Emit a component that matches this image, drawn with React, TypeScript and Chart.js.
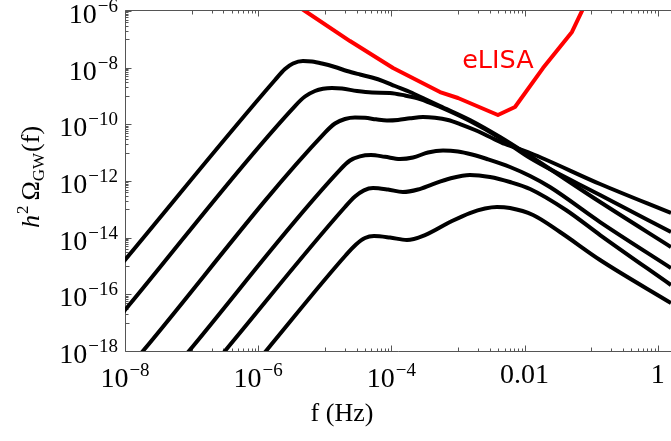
import React, { useEffect, useRef } from "react";
import { Chart, registerables } from "chart.js";

Chart.register(...registerables);

// ---- axis ranges ----
const X_MIN = 1e-8;
const X_MAX = 1.58;
const Y_MIN = 1e-18;
const Y_MAX = 1e-6;

// ---- black spectra (f in Hz, h^2 Omega_GW) ----
const freqA = [4.43e-9, 1e-8, 1.788e-6, 2.527e-6, 3.331e-6, 4.706e-6, 6.424e-6, 9.08e-6, 1.422e-5, 2.154e-5, 3.377e-5, 5.113e-5, 7.477e-5, 1.133e-4, 1.903e-4, 3.195e-4, 5.37e-4, 1.51e-3, 4.28e-3, 1.21e-2, 0.136, 1.58];
const omegaA = [1.63e-16, 1.63e-15, 3.667e-9, 8.966e-9, 1.402e-8, 1.718e-8, 1.65e-8, 1.402e-8, 1.055e-8, 7.622e-9, 5.735e-9, 4.494e-9, 3.38e-9, 2.25e-9, 1.38e-9, 7.83e-10, 4.43e-10, 1.42e-10, 3.56e-11, 7.62e-12, 1.81e-13, 4.68e-15];

const freqB = [4.43e-9, 1e-8, 3.569e-6, 5.043e-6, 7.126e-6, 9.397e-6, 1.282e-5, 1.813e-5, 3.045e-5, 5.113e-5, 9.53e-5, 1.601e-4, 2.69e-4, 5.37e-4, 1.51e-3, 4.28e-3, 1.21e-2, 0.136, 1.58];
const omegaB = [2.79e-18, 2.79e-17, 4.43e-10, 9.594e-10, 1.5e-9, 1.794e-9, 1.91e-9, 1.838e-9, 1.5e-9, 1.328e-9, 1.28e-9, 1.04e-9, 7.83e-10, 4.08e-10, 1.31e-10, 3.29e-11, 6.47e-12, 3.2e-13, 1.58e-14];

const freqC = [8.2e-9, 1.86e-8, 1.007e-5, 1.422e-5, 2.011e-5, 2.841e-5, 4.015e-5, 5.872e-5, 8.588e-5, 1.256e-4, 1.903e-4, 2.982e-4, 4.516e-4, 7.075e-4, 1.072e-3, 1.8e-3, 3.023e-3, 5.077e-3, 1.21e-2, 0.136, 1.58];
const omegaC = [1e-19, 1e-18, 5.101e-11, 1.069e-10, 1.54e-10, 1.74e-10, 1.699e-10, 1.504e-10, 1.364e-10, 1.42e-10, 1.631e-10, 1.81e-10, 1.699e-10, 1.42e-10, 1.026e-10, 6.3e-11, 3.56e-11, 2.02e-11, 9.72e-12, 7.82e-13, 7.41e-14];

const freqD = [4.05e-8, 9.14e-8, 1.691e-5, 2.39e-5, 3.377e-5, 4.94e-5, 8.014e-5, 1.346e-4, 2.11e-4, 3.544e-4, 5.96e-4, 1.0e-3, 1.623e-3, 2.725e-3, 6.04e-3, 1.21e-2, 2.4e-2, 0.136, 1.58];
const omegaD = [1e-19, 1e-18, 2.481e-12, 5.283e-12, 7.432e-12, 8.26e-12, 7.136e-12, 5.97e-12, 6.74e-12, 1.012e-11, 1.19e-11, 1.098e-11, 8.604e-12, 5.97e-12, 3.12e-12, 1.499e-12, 6.14e-13, 3.56e-14, 8.48e-16];

const freqE = [1.4e-7, 3.17e-7, 2.011e-5, 2.841e-5, 3.878e-5, 5.3e-5, 8.889e-5, 1.49e-4, 2.507e-4, 4.212e-4, 7.58e-4, 1.51e-3, 3.023e-3, 6.04e-3, 1.21e-2, 4.18e-2, 0.136, 1.58];
const omegaE = [1e-19, 1e-18, 1.207e-13, 2.832e-13, 4.688e-13, 5.65e-13, 5.003e-13, 4.08e-13, 5.003e-13, 7.822e-13, 1.224e-12, 1.63e-12, 1.382e-12, 9.204e-13, 5.21e-13, 9.46e-14, 1.239e-14, 2.13e-16];

const freqF = [5.8e-7, 1.31e-6, 2.081e-5, 2.941e-5, 4.015e-5, 5.478e-5, 9.53e-5, 1.71e-4, 3.195e-4, 7.58e-4, 1.51e-3, 2.543e-3, 3.85e-3, 6.04e-3, 1.34e-2, 3.401e-2, 0.136, 1.58];
const omegaF = [1e-19, 1e-18, 2.439e-15, 5.727e-15, 9.712e-15, 1.14e-14, 1.012e-14, 8.26e-15, 1.239e-14, 3.56e-14, 7.41e-14, 1.068e-13, 1.21e-13, 1.112e-13, 6.3e-14, 1.58e-14, 1.63e-15, 4.93e-17];

// ---- eLISA sensitivity curve ----
const freqELISA = [1.5e-6, 5.05e-6, 2.39e-5, 1.06e-4, 5.37e-4, 1.0e-3, 3.98e-3, 7.18e-3, 1.89e-2, 5.15e-2, 7.28e-2, 9.6e-2];
const omegaELISA = [6.5e-6, 1e-6, 8.7e-8, 9.7e-9, 1.38e-9, 8.5e-10, 2.13e-10, 4.08e-10, 9.7e-9, 1.82e-7, 1e-6, 5.5e-6];
const ELISA_LABEL = "eLISA";
const ELISA_LABEL_F = 3.98e-3;
const ELISA_LABEL_OMEGA = 1.01e-8;

// ---- ticks and titles ----
const X_MAJOR = [1e-8, 1e-6, 1e-4, 1e-2, 1];
const X_LABEL_BASE = ["10", "10", "10", "0.01", "1"];
const X_LABEL_EXP = ["\u22128", "\u22126", "\u22124", "", ""];
const Y_MAJOR = [1e-6, 1e-8, 1e-10, 1e-12, 1e-14, 1e-16, 1e-18];
const Y_LABEL_BASE = ["10", "10", "10", "10", "10", "10", "10"];
const Y_LABEL_EXP = ["\u22126", "\u22128", "\u221210", "\u221212", "\u221214", "\u221216", "\u221218"];
const X_MINOR_EXPONENTS = [-7, -5, -3, -1];
const Y_MINOR_EXPONENTS = [-17, -15, -13, -11, -9, -7];
const X_TITLE = "f (Hz)";

const SERIF = '"Liberation Serif", "Times New Roman", "DejaVu Serif", serif';
const SANS = '"DejaVu Sans", "Liberation Sans", sans-serif';

const overlayPlugin = {
  id: "overlay",
  beforeDatasetsDraw(chart: any) {
    const { ctx, chartArea: a } = chart;
    const xs = chart.scales.x;
    const ys = chart.scales.y;
    const L = a.left + 0.5;
    const T = a.top - 0.5;
    const B = a.bottom + 0.5;
    ctx.save();
    ctx.strokeStyle = "#555";
    ctx.lineWidth = 1;
    ctx.beginPath();
    ctx.moveTo(a.right, T);
    ctx.lineTo(L, T);
    ctx.lineTo(L, B);
    ctx.lineTo(a.right, B);
    const xTick = (v: number, len: number) => {
      const px = Math.round(xs.getPixelForValue(v)) + 0.5;
      if (px < a.left || px > a.right) return;
      ctx.moveTo(px, B);
      ctx.lineTo(px, B - len);
      ctx.moveTo(px, T);
      ctx.lineTo(px, T + len);
    };
    const yTick = (v: number, len: number) => {
      const py = Math.round(ys.getPixelForValue(v)) + 0.5;
      if (py < a.top - 1 || py > a.bottom + 1) return;
      ctx.moveTo(L, py);
      ctx.lineTo(L + len, py);
    };
    X_MAJOR.forEach((v) => xTick(v, 6));
    X_MINOR_EXPONENTS.forEach((e) => {
      for (let k = 1; k <= 9; k++) xTick(k * Math.pow(10, e), k === 1 ? 4 : 3);
    });
    Y_MAJOR.forEach((v) => yTick(v, 6));
    Y_MINOR_EXPONENTS.forEach((e) => {
      for (let k = 1; k <= 9; k++) yTick(k * Math.pow(10, e), k === 1 ? 4 : 3);
    });
    ctx.stroke();
    ctx.restore();
  },
  afterDraw(chart: any) {
    const { ctx } = chart;
    const xs = chart.scales.x;
    const ys = chart.scales.y;
    ctx.save();
    ctx.fillStyle = "#000";
    ctx.textBaseline = "alphabetic";
    const baseFont = `28px ${SERIF}`;
    const expFont = `19px ${SERIF}`;
    X_MAJOR.forEach((v, i) => {
      const px = xs.getPixelForValue(v);
      const b = X_LABEL_BASE[i];
      const e = X_LABEL_EXP[i];
      ctx.font = baseFont;
      const wb = ctx.measureText(b).width;
      ctx.font = expFont;
      const we = e ? ctx.measureText(e).width + 1 : 0;
      const start = px - (wb + we) / 2;
      ctx.textAlign = "left";
      if (e) {
        ctx.font = baseFont;
        ctx.fillText(b, start, 387);
        ctx.font = expFont;
        ctx.fillText(e, start + wb + 1, 376);
      } else {
        ctx.font = baseFont;
        ctx.fillText(b, start, 383);
      }
    });
    Y_MAJOR.forEach((v, i) => {
      const py = ys.getPixelForValue(v);
      const right = 118;
      ctx.textAlign = "right";
      ctx.font = expFont;
      const e = Y_LABEL_EXP[i];
      const we = ctx.measureText(e).width;
      ctx.fillText(e, right, py + 1);
      ctx.font = baseFont;
      ctx.fillText(Y_LABEL_BASE[i], right - we - 1, py + 12);
    });
    ctx.textAlign = "center";
    ctx.font = `26px ${SERIF}`;
    ctx.fillText(X_TITLE, 342, 421);
    ctx.save();
    ctx.translate(38.5, 177);
    ctx.rotate(-Math.PI / 2);
    ctx.textAlign = "left";
    const pieces = [
      { t: "h", f: `italic 26px ${SERIF}`, dy: 0, gap: 1 },
      { t: "2", f: `17px ${SERIF}`, dy: -11, gap: 5 },
      { t: "\u03A9", f: `26px ${SERIF}`, dy: 0, gap: 0 },
      { t: "GW", f: `17px ${SERIF}`, dy: 5, gap: 1 },
      { t: "(f)", f: `26px ${SERIF}`, dy: 0, gap: 0 },
    ];
    let total = 0;
    pieces.forEach((p) => {
      ctx.font = p.f;
      total += ctx.measureText(p.t).width + p.gap;
    });
    let cx = -total / 2;
    pieces.forEach((p) => {
      ctx.font = p.f;
      ctx.fillText(p.t, cx, p.dy);
      cx += ctx.measureText(p.t).width + p.gap;
    });
    ctx.restore();
    ctx.fillStyle = "#ff0000";
    ctx.textAlign = "center";
    ctx.font = `25.5px ${SANS}`;
    ctx.fillText(ELISA_LABEL, xs.getPixelForValue(ELISA_LABEL_F), ys.getPixelForValue(ELISA_LABEL_OMEGA));
    ctx.restore();
  },
};

const toPoints = (fs: number[], os: number[]) => fs.map((f, i) => ({ x: f, y: os[i] }));

export default function App() {
  const ref = useRef<HTMLCanvasElement>(null);
  useEffect(() => {
    const canvas = ref.current;
    if (!canvas) return;
    const blackSeries: [number[], number[]][] = [
      [freqA, omegaA],
      [freqB, omegaB],
      [freqC, omegaC],
      [freqD, omegaD],
      [freqE, omegaE],
      [freqF, omegaF],
    ];
    const datasets: any[] = blackSeries.map(([f, o]) => ({
      data: toPoints(f, o),
      borderColor: "#000000",
      borderWidth: 4,
      pointRadius: 0,
      fill: false,
      cubicInterpolationMode: "monotone",
      borderJoinStyle: "round",
    }));
    datasets.push({
      data: toPoints(freqELISA, omegaELISA),
      borderColor: "#ff0000",
      borderWidth: 4,
      pointRadius: 0,
      fill: false,
      tension: 0,
      borderJoinStyle: "round",
    });
    const chart = new Chart(canvas, {
      type: "line",
      data: { datasets },
      options: {
        animation: false,
        responsive: false,
        maintainAspectRatio: false,
        events: [],
        layout: { padding: { left: 125, top: 11, right: 0, bottom: 90 } },
        plugins: { legend: { display: false }, tooltip: { enabled: false } },
        scales: {
          x: { type: "logarithmic", min: X_MIN, max: X_MAX, display: false },
          y: { type: "logarithmic", min: Y_MIN, max: Y_MAX, display: false },
        },
      },
      plugins: [overlayPlugin],
    } as any);
    return () => chart.destroy();
  }, []);
  return (
    <div style={{ position: "fixed", left: 0, top: 0, width: 671, height: 441, background: "#fff" }}>
      <canvas ref={ref} width={671} height={441} style={{ display: "block", width: 671, height: 441 }} />
    </div>
  );
}
